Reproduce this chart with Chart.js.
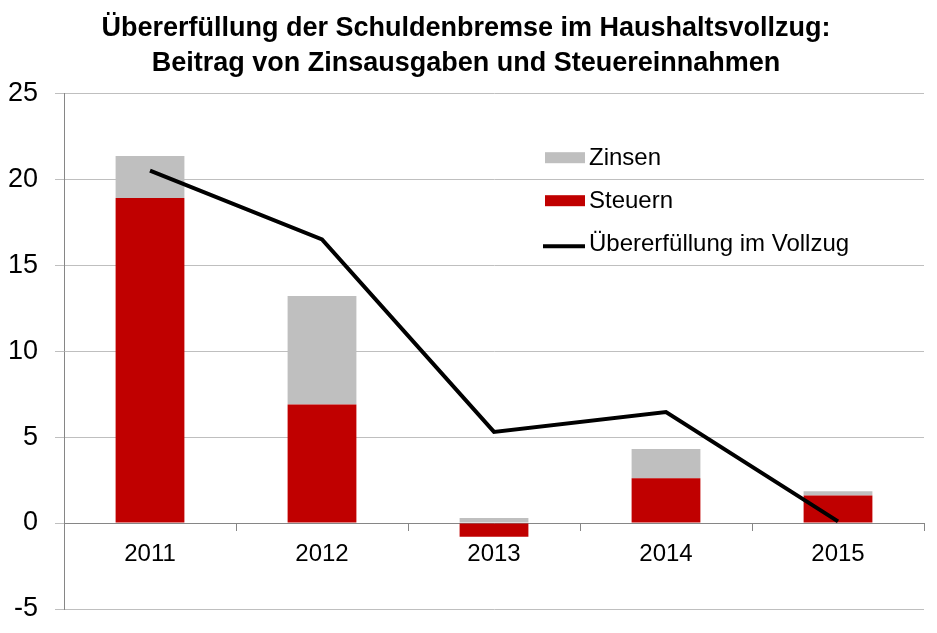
<!DOCTYPE html>
<html lang="de">
<head>
<meta charset="utf-8">
<title>Übererfüllung der Schuldenbremse</title>
<script src="https://cdn.jsdelivr.net/npm/chart.js@4"></script>
<style>
    body { margin: 0; background: #ffffff; }
    #wrap { width: 937px; height: 633px; }
</style>
</head>
<body>
<div id="wrap"><canvas id="schuldenChart"></canvas></div>
<script>
// =========================================
// DATEN
// =========================================
const jahre = ["2011", "2012", "2013", "2014", "2015"];
const steuern = [18.9, 6.9, -0.8, 2.6, 1.6];
const zinsen = [2.45, 6.3, 0.3, 1.7, 0.25];
const uebererfuellung = [20.5, 16.5, 5.3, 6.45, 0.1];
const yTicks = [-5, 0, 5, 10, 15, 20, 25];

const titelZeilen = [
    "Übererfüllung der Schuldenbremse im Haushaltsvollzug:",
    "Beitrag von Zinsausgaben und Steuereinnahmen"
];

const schrift = "'Liberation Sans', Arial, sans-serif";
const rot = "#C00000";
const grau = "#BFBFBF";
const achsenGrau = "#868686";

// =========================================
// LEGENDE INNERHALB DER ZEICHENFLÄCHE
// =========================================
const legendeImDiagramm = {
    id: "legendeImDiagramm",
    afterDraw(chart) {
        const ctx = chart.ctx;
        const area = chart.chartArea;
        const x0 = area.left + 481;
        const eintraege = [
            { ds: chart.data.datasets[1], y: area.top + 72, art: "box" },
            { ds: chart.data.datasets[0], y: area.top + 115, art: "box" },
            { ds: chart.data.datasets[2], y: area.top + 158, art: "linie" }
        ];

        ctx.save();
        ctx.font = "24px " + schrift;
        ctx.textBaseline = "alphabetic";

        eintraege.forEach((e) => {
            if (e.art === "box") {
                ctx.fillStyle = e.ds.backgroundColor;
                ctx.fillRect(x0, e.y - 13, 40, 11);
            } else {
                ctx.strokeStyle = e.ds.borderColor;
                ctx.lineWidth = 4;
                ctx.beginPath();
                ctx.moveTo(x0 - 2, e.y - 5);
                ctx.lineTo(x0 + 40, e.y - 5);
                ctx.stroke();
            }
            ctx.fillStyle = "#000000";
            ctx.fillText(e.ds.label, x0 + 44, e.y);
        });
        ctx.restore();
    }
};

// =========================================
// DIAGRAMM ERSTELLEN
// =========================================
function erstelleDiagramm() {
    const el = document.getElementById("schuldenChart");
    if (!el || typeof Chart === "undefined") {
        return;
    }

    new Chart(el, {
        type: "bar",
        data: {
            labels: jahre,
            datasets: [
                {
                    label: "Steuern",
                    data: steuern,
                    backgroundColor: rot,
                    stack: "balken",
                    order: 2,
                    categoryPercentage: 1.0,
                    barPercentage: 0.4
                },
                {
                    label: "Zinsen",
                    data: zinsen,
                    backgroundColor: grau,
                    stack: "balken",
                    order: 2,
                    categoryPercentage: 1.0,
                    barPercentage: 0.4
                },
                {
                    type: "line",
                    label: "Übererfüllung im Vollzug",
                    data: uebererfuellung,
                    borderColor: "#000000",
                    backgroundColor: "#000000",
                    borderWidth: 4,
                    pointRadius: 0,
                    tension: 0,
                    stack: "linie",
                    order: 1
                }
            ]
        },
        options: {
            responsive: true,
            maintainAspectRatio: false,
            animation: false,
            layout: {
                padding: { left: 8, right: 13, top: 0, bottom: 24 }
            },
            plugins: {
                legend: { display: false },
                tooltip: { enabled: false },
                title: {
                    display: true,
                    text: titelZeilen,
                    color: "#000000",
                    font: { family: schrift, size: 27, weight: "bold", lineHeight: 1.3 },
                    padding: { top: 11, bottom: 12 }
                }
            },
            scales: {
                x: {
                    stacked: true,
                    position: { y: 0 },
                    offset: true,
                    grid: {
                        offset: true,
                        drawOnChartArea: false,
                        drawTicks: true,
                        tickLength: 7,
                        color: achsenGrau
                    },
                    border: { color: achsenGrau, width: 1 },
                    ticks: {
                        color: "#000000",
                        padding: 10,
                        font: { family: schrift, size: 24 }
                    }
                },
                y: {
                    stacked: true,
                    min: yTicks[0],
                    max: yTicks[yTicks.length - 1],
                    afterBuildTicks(scale) {
                        scale.ticks = yTicks.map((v) => ({ value: v }));
                    },
                    // Feste Achsenbreite, Zeichenfläche von x = 64 bis unten 609
                    afterFit(scale) {
                        scale.width = 56;
                        scale.paddingTop = 0;
                        scale.paddingBottom = 0;
                    },
                    grid: {
                        color: grau,
                        tickLength: 9,
                        tickColor: grau
                    },
                    border: { color: achsenGrau, width: 1 },
                    ticks: {
                        color: "#000000",
                        padding: 17,
                        font: { family: schrift, size: 27 }
                    }
                }
            }
        },
        plugins: [legendeImDiagramm]
    });
}

window.addEventListener("DOMContentLoaded", () => {
    erstelleDiagramm();
});
</script>
</body>
</html>
